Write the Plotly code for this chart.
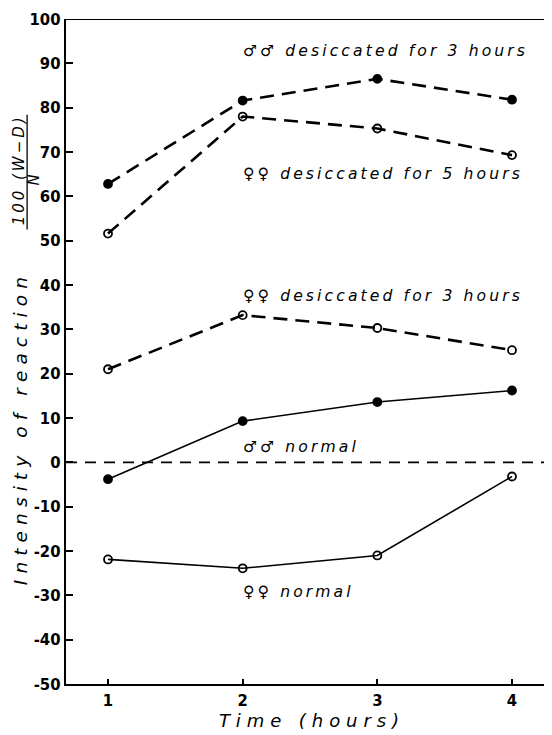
import plotly.graph_objects as go

time = [1, 2, 3, 4]
males_desic_3h = [62.8, 81.6, 86.5, 81.8]
females_desic_5h = [51.6, 78.0, 75.3, 69.3]
females_desic_3h = [21.0, 33.2, 30.3, 25.3]
males_normal = [-3.8, 9.3, 13.6, 16.2]
females_normal = [-21.9, -23.9, -21.0, -3.2]
y_ticks = [-50, -40, -30, -20, -10, 0, 10, 20, 30, 40, 50, 60, 70, 80, 90, 100]
x_ticks = [1, 2, 3, 4]


def spaced(s, sp="\u2009"):
    return sp.join(list(s))


lab_font = dict(family="DejaVu Sans", size=15.6, color="black")
tick_font = dict(family="Liberation Sans Narrow, DejaVu Sans Condensed, Arial Narrow", size=16.5,
                 color="black", weight="bold")

fig = go.Figure()

dash = "14px,8px"


def add(y, filled, dashed):
    fig.add_trace(go.Scatter(
        x=time, y=y, mode="lines+markers",
        line=dict(color="black", width=2.6 if dashed else 1.6, dash=dash if dashed else "solid"),
        marker=dict(symbol="circle" if filled else "circle-open", size=8,
                    color="black", line=dict(color="black", width=1.8)),
        showlegend=False, cliponaxis=False))


add(males_desic_3h, True, True)
add(females_desic_5h, False, True)
add(females_desic_3h, False, True)
add(males_normal, True, False)
add(females_normal, False, False)

# zero reference line
fig.add_shape(type="line", xref="paper", x0=0, x1=1, yref="y", y0=0, y1=0,
              line=dict(color="black", width=1.6, dash="11px,8px"))
# top frame line
fig.add_shape(type="line", xref="paper", x0=0, x1=1, yref="y", y0=100, y1=100,
              line=dict(color="black", width=2))


def ann(text, x, y):
    fig.add_annotation(text="<i>" + spaced(text) + "</i>", x=x, y=y, xref="x", yref="y",
                       showarrow=False, xanchor="left", yanchor="middle", font=lab_font)


ann("♂♂ desiccated for 3 hours", 1.99, 92.7)
ann("♀♀ desiccated for 5 hours", 1.99, 65.1)
ann("♀♀ desiccated for 3 hours", 1.99, 37.6)
ann("♂♂ normal", 1.99, 3.5)
ann("♀♀ normal", 1.99, -29.2)

# y-axis title pieces
fig.add_annotation(text="<i>" + spaced("Intensity of reaction", "\u2004") + "</i>",
                   xref="x domain", yref="y", x=-0.095, y=7.0, showarrow=False, textangle=-90,
                   xanchor="center", yanchor="middle",
                   font=dict(family="DejaVu Sans", size=18.5, color="black"))
fig.add_annotation(text="<i>" + spaced("100 (W−D)", "\u2009") + "</i>", xref="x domain", yref="y",
                   x=-0.097, y=65.6, showarrow=False, textangle=-90,
                   xanchor="center", yanchor="middle",
                   font=dict(family="DejaVu Sans", size=15, color="black"))
fig.add_annotation(text="<i>N</i>", xref="x domain", yref="y",
                   x=-0.064, y=63.8, showarrow=False, textangle=-90,
                   xanchor="center", yanchor="middle",
                   font=dict(family="DejaVu Sans", size=15, color="black"))
fig.add_shape(type="line", xref="x domain", yref="y", x0=-0.080, x1=-0.080, y0=52.5, y1=78.4,
              line=dict(color="black", width=1.3))

fig.update_xaxes(range=[0.688, 4.297], tickvals=x_ticks, ticktext=[str(v) for v in x_ticks],
                 showgrid=False, zeroline=False, showline=True, linecolor="black", linewidth=2.4,
                 ticks="inside", ticklen=5, tickwidth=1.8, tickcolor="black",
                 tickfont=tick_font, automargin=False,
                 title=dict(text="<i>" + spaced("Time (hours)", "\u2004") + "</i>",
                            font=dict(family="DejaVu Sans", size=18, color="black"),
                            standoff=0))
fig.update_yaxes(range=[-50, 100], tickvals=y_ticks, ticktext=[str(v) for v in y_ticks],
                 showgrid=False, zeroline=False, showline=True, linecolor="black", linewidth=2.4,
                 ticks="inside", ticklen=7, tickwidth=1.8, tickcolor="black",
                 tickfont=tick_font, automargin=False)

fig.update_layout(width=552, height=735, margin=dict(l=58, r=8, t=11, b=59),
                  plot_bgcolor="white", paper_bgcolor="white", showlegend=False)

fig.write_html("out.html")
